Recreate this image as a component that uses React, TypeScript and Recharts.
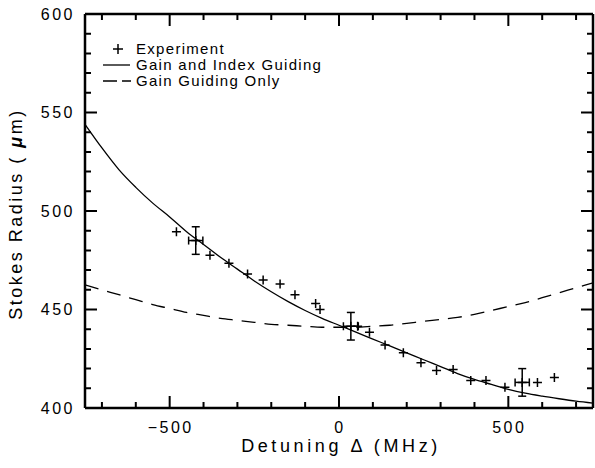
import React from "react";
import {
  ComposedChart,
  XAxis,
  YAxis,
  Line,
  Scatter,
  ErrorBar,
  Legend,
  Label,
} from "recharts";

// detuning (MHz) vs Stokes radius (um)
const experiment = [
  { x: -480, y: 489.5 },
  { x: -381, y: 477.5 },
  { x: -325, y: 473.5 },
  { x: -270, y: 468 },
  { x: -224, y: 465 },
  { x: -174, y: 463 },
  { x: -130, y: 457.5 },
  { x: -69, y: 453 },
  { x: -56, y: 450 },
  { x: 55, y: 441.5 },
  { x: 90, y: 438.5 },
  { x: 136, y: 432 },
  { x: 190, y: 428 },
  { x: 242, y: 423 },
  { x: 288, y: 419 },
  { x: 337, y: 419.5 },
  { x: 389, y: 414 },
  { x: 434, y: 414 },
  { x: 490, y: 410.5 },
  { x: 586, y: 413 },
  { x: 636, y: 415.5 },
];

const experimentErr = [
  { x: -423, y: 485, ex: 21, ey: 7 },
  { x: 35, y: 441.5, ex: 22, ey: 7 },
  { x: 541, y: 413, ex: 21, ey: 7 },
];

const gainIndex = [
  { x: -750, y: 544 },
  { x: -700, y: 532 },
  { x: -650, y: 521 },
  { x: -600, y: 512 },
  { x: -550, y: 504 },
  { x: -500, y: 497 },
  { x: -450, y: 489.5 },
  { x: -400, y: 483 },
  { x: -350, y: 476.5 },
  { x: -300, y: 470.5 },
  { x: -250, y: 464.5 },
  { x: -200, y: 459 },
  { x: -150, y: 454 },
  { x: -100, y: 449.5 },
  { x: -50, y: 445.5 },
  { x: 0, y: 442 },
  { x: 50, y: 438.5 },
  { x: 100, y: 435 },
  { x: 150, y: 431.5 },
  { x: 200, y: 428 },
  { x: 250, y: 424.5 },
  { x: 300, y: 421 },
  { x: 350, y: 417.5 },
  { x: 400, y: 414.5 },
  { x: 450, y: 412 },
  { x: 500, y: 409.5 },
  { x: 550, y: 407.5 },
  { x: 600, y: 406 },
  { x: 650, y: 404.7 },
  { x: 700, y: 403.5 },
  { x: 750, y: 402.5 },
];

const gainOnly = [
  { x: -750, y: 462.5 },
  { x: -700, y: 460 },
  { x: -650, y: 457.5 },
  { x: -600, y: 455 },
  { x: -550, y: 452.5 },
  { x: -500, y: 450.5 },
  { x: -450, y: 448.5 },
  { x: -400, y: 447 },
  { x: -350, y: 445.5 },
  { x: -300, y: 444.5 },
  { x: -250, y: 443.5 },
  { x: -200, y: 442.5 },
  { x: -150, y: 442 },
  { x: -100, y: 441.5 },
  { x: -50, y: 441 },
  { x: 0, y: 441 },
  { x: 50, y: 441 },
  { x: 100, y: 441.5 },
  { x: 150, y: 442 },
  { x: 200, y: 443 },
  { x: 250, y: 444 },
  { x: 300, y: 445 },
  { x: 350, y: 446 },
  { x: 400, y: 447.5 },
  { x: 450, y: 449.5 },
  { x: 500, y: 451.5 },
  { x: 550, y: 453.5 },
  { x: 600, y: 456 },
  { x: 650, y: 458.5 },
  { x: 700, y: 461 },
  { x: 750, y: 463.5 },
];

const xDomain = [-750, 750];
const yDomain = [400, 600];
const xTicks = [-700, -600, -500, -400, -300, -200, -100, 0, 100, 200, 300, 400, 500, 600, 700];
const yTicks = [
  400, 410, 420, 430, 440, 450, 460, 470, 480, 490, 500,
  510, 520, 530, 540, 550, 560, 570, 580, 590, 600,
];

// plot frame (px)
const W = 595;
const H = 468;
const TOP = 14;
const LEFT = 85;
const RIGHT = 593;
const BOTTOM = 408;

const FONT = "'Liberation Sans', Arial, sans-serif";
const fmt = (v: number) => (v < 0 ? "\u2212" + Math.abs(v) : String(v));

// bottom axis tick: inward marks on bottom and top of the frame + label
const XTick = (p: any) => {
  const major = p.payload.value % 500 === 0;
  const len = major ? 12 : 6;
  return (
    <g>
      <path
        d={`M${p.x},${BOTTOM}V${BOTTOM - len}M${p.x},${TOP}V${TOP + len}`}
        stroke="#000"
        strokeWidth={2}
        fill="none"
      />
      {major && (
        <text x={p.x + 1} y={BOTTOM + 19} dy="0.36em" textAnchor="middle" fontSize={16} letterSpacing={2.5} fontFamily={FONT} fill="#000">
          {fmt(p.payload.value)}
        </text>
      )}
    </g>
  );
};

// left axis tick: inward marks on left and right of the frame + label
const YTick = (p: any) => {
  const major = p.payload.value % 50 === 0;
  const len = major ? 12 : 6;
  return (
    <g>
      <path
        d={`M${LEFT},${p.y}H${LEFT + len}M${RIGHT},${p.y}H${RIGHT - len}`}
        stroke="#000"
        strokeWidth={2}
        fill="none"
      />
      {major && (
        <text x={LEFT - 10} y={p.y} dy="0.36em" textAnchor="end" fontSize={16} letterSpacing={2.5} fontFamily={FONT} fill="#000">
          {p.payload.value}
        </text>
      )}
    </g>
  );
};

const Plus = (p: any) => (
  <path
    d={`M${p.cx - 4.5},${p.cy}H${p.cx + 4.5}M${p.cx},${p.cy - 4.5}V${p.cy + 4.5}`}
    stroke="#000"
    strokeWidth={1.5}
    fill="none"
  />
);

const LegendBox = () => (
  <svg width={280} height={60} style={{ display: "block" }}>
    <path d="M15,11H25M20,6V16" stroke="#000" strokeWidth={1.5} fill="none" />
    <path d="M5,27H32" stroke="#000" strokeWidth={1.3} fill="none" />
    <path d="M5,43H33" stroke="#000" strokeWidth={1.3} strokeDasharray="14 5" fill="none" />
    <g fontSize={15} letterSpacing={1.3} fontFamily={FONT} fill="#000">
      <text x={38} y={11} dy="0.36em">Experiment</text>
      <text x={38} y={27} dy="0.36em">Gain and Index Guiding</text>
      <text x={38} y={43} dy="0.36em">Gain Guiding Only</text>
    </g>
  </svg>
);

export default function App() {
  return (
    <div style={{ position: "absolute", left: 0, top: 0, background: "#fff" }}>
      <ComposedChart
        width={W}
        height={H}
        margin={{ top: TOP - 1, right: W - RIGHT - 1, bottom: 0, left: 0 }}
      >
        <XAxis
          xAxisId="b"
          type="number"
          dataKey="x"
          domain={xDomain}
          ticks={xTicks}
          interval={0}
          allowDataOverflow
          height={H - BOTTOM}
          tickSize={0}
          tickMargin={0}
          tickLine={false}
          tick={XTick}
          axisLine={{ stroke: "#000", strokeWidth: 2.5 }}
        >
          <Label
            content={() => (
              <text x={341} y={452} textAnchor="middle" fontSize={18} letterSpacing={3.6} fontFamily={FONT} fill="#000">
                Detuning {"\u0394"} (MHz)
              </text>
            )}
          />
        </XAxis>
        <XAxis
          xAxisId="t"
          orientation="top"
          type="number"
          dataKey="x"
          domain={xDomain}
          allowDataOverflow
          height={1}
          tick={false}
          tickLine={false}
          axisLine={{ stroke: "#000", strokeWidth: 2.5 }}
        />
        <YAxis
          yAxisId="l"
          type="number"
          domain={yDomain}
          ticks={yTicks}
          interval={0}
          allowDataOverflow
          width={LEFT}
          tickSize={0}
          tickMargin={0}
          tickLine={false}
          tick={YTick}
          axisLine={{ stroke: "#000", strokeWidth: 2.5 }}
        >
          <Label
            content={() => (
              <text
                x={22}
                y={214}
                transform="rotate(-90 22 214)"
                textAnchor="middle"
                fontSize={18}
                letterSpacing={2.5}
                fontFamily={FONT}
                fill="#000"
              >
                Stokes Radius ( <tspan fontStyle="italic" fontWeight="bold">{"\u03bc"}</tspan>m)
              </text>
            )}
          />
        </YAxis>
        <YAxis
          yAxisId="r"
          orientation="right"
          type="number"
          domain={yDomain}
          allowDataOverflow
          width={1}
          tick={false}
          tickLine={false}
          axisLine={{ stroke: "#000", strokeWidth: 2.5 }}
        />
        <Legend
          layout="vertical"
          verticalAlign="middle"
          align="center"
          content={LegendBox}
          wrapperStyle={{ position: "absolute", left: 98, top: 38, width: 280 }}
        />
        <Line
          xAxisId="b"
          yAxisId="l"
          data={gainIndex}
          dataKey="y"
          type="monotone"
          stroke="#000"
          strokeWidth={1.3}
          dot={false}
          isAnimationActive={false}
        />
        <Line
          xAxisId="b"
          yAxisId="l"
          data={gainOnly}
          dataKey="y"
          type="monotone"
          stroke="#000"
          strokeWidth={1.3}
          strokeDasharray="14 9"
          dot={false}
          isAnimationActive={false}
        />
        <Scatter xAxisId="b" yAxisId="l" data={experiment} dataKey="y" shape={Plus} isAnimationActive={false} />
        <Scatter xAxisId="b" yAxisId="l" data={experimentErr} dataKey="y" shape={Plus} isAnimationActive={false}>
          <ErrorBar dataKey="ey" direction="y" width={4} stroke="#000" strokeWidth={1.5} />
          <ErrorBar dataKey="ex" direction="x" width={4} stroke="#000" strokeWidth={1.5} />
        </Scatter>
      </ComposedChart>
    </div>
  );
}
